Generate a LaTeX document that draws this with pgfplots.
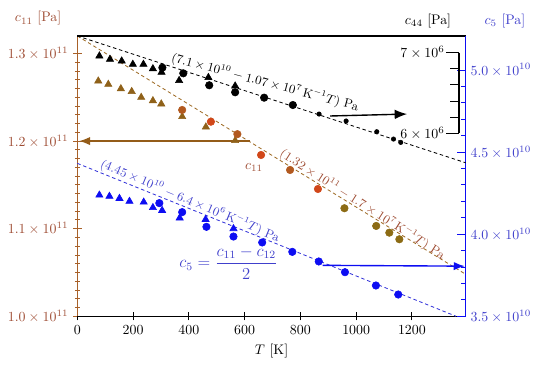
\documentclass[border=0pt]{standalone}
\usepackage{pgfplots}
\pgfplotsset{compat=1.18}
\usetikzlibrary{arrows.meta}
\definecolor{caxis}{rgb}{0.66,0.38,0.16}
\definecolor{ctxt}{rgb}{0.62,0.3,0.2}
\definecolor{cred}{rgb}{0.82,0.28,0.1}
\definecolor{cbrn}{rgb}{0.7,0.35,0.12}
\definecolor{colive}{rgb}{0.55,0.42,0.08}
\definecolor{ctri}{rgb}{0.56,0.38,0.1}
\definecolor{cline}{rgb}{0.62,0.42,0.15}
\definecolor{carrow}{rgb}{0.58,0.36,0.1}
\definecolor{cblue}{rgb}{0.05,0.05,0.95}
\definecolor{cbtxt}{rgb}{0.25,0.25,0.8}
\definecolor{cbline}{rgb}{0.2,0.2,0.85}

\pgfplotsset{
  base/.style={
    width=279.6pt, height=201.8pt, scale only axis,
    xmin=0, xmax=1393,
    tick align=inside,
    major tick length=6pt, minor tick length=3.5pt,
    scaled y ticks=false,
    /pgf/number format/1000 sep={},
    clip=false,
  },
  fit/.style={line width=0.6pt, dash pattern=on 2.5pt off 2pt},
}

\begin{document}
\begin{tikzpicture}
% ---------------- c11 axis (left) ----------------
\begin{axis}[base,
  ymin=1.0e11, ymax=1.32e11,
  axis lines=left, axis line style={-},
  y axis line style={caxis, line width=1pt},
  x axis line style={black, line width=1pt},
  xtick={0,200,...,1200},
  xtick style={black, line width=0.6pt},
  ytick={1.0e11,1.1e11,1.2e11,1.3e11},
  yticklabels={$1.0\times10^{11}$,$1.1\times10^{11}$,$1.2\times10^{11}$,$1.3\times10^{11}$},
  yticklabel style={ctxt},
  minor y tick num=9,
  ytick style={caxis, line width=0.6pt},
  xlabel={$T$ [K]},
]
\coordinate (SW) at (rel axis cs:0,0);
\coordinate (NE) at (rel axis cs:1,1);
\addplot[fit, cline] coordinates {(0,1.32e11) (1393,1.0479e11)};
\addplot[only marks, mark=triangle*, mark size=3pt, color=ctri] coordinates {
(75,1.2686e11) (111,1.2648e11) (156,1.2598e11) (195,1.2566e11) (229,1.2499e11)
(271,1.2461e11) (301,1.2424e11) (376,1.2279e11) (461,1.2161e11) (566,1.2005e11)};
\addplot[only marks, mark=*, mark size=2.7pt, color=cbrn] coordinates {
(376,1.2355e11) (574,1.2079e11) (763,1.1670e11)};
\addplot[only marks, mark=*, mark size=2.7pt, color=cred] coordinates {
(479,1.2221e11) (659,1.1841e11) (863,1.1453e11)};
\addplot[only marks, mark=*, mark size=2.7pt, color=colive] coordinates {
(958,1.1233e11) (1072,1.1031e11) (1119,1.0954e11) (1155,1.0879e11)};
\draw[carrow, line width=1pt, -{Latex[length=8pt,width=6pt]}] (axis cs:620,1.2e11) -- (axis cs:6,1.2e11);
\node[ctxt] at (rel axis cs:-0.1012,1.0625) {$c_{11}$ [Pa]};
\node[black] at (rel axis cs:0.903,1.0535) {$c_{44}$ [Pa]};
\node[cbtxt] at (rel axis cs:1.1011,1.0535) {$c_{5}$ [Pa]};
\node[ctxt] at (rel axis cs:0.455,0.531) {$c_{11}$};
\node[cbtxt, font=\large] at (rel axis cs:0.3893,0.1902) {$c_5=\displaystyle\frac{c_{11}-c_{12}}{2}$};
\node[black, rotate=-14.8, font=\small] at (rel axis cs:0.4833,0.8341) {$(7.1\times10^{10}-1.07\times10^{7}\,\mathrm{K}^{-1}T)$ Pa};
\node[ctxt, rotate=-32.5, font=\small] at (rel axis cs:0.7343,0.3989) {$(1.32\times10^{11}-1.7\times10^{7}\,\mathrm{K}^{-1}T)$ Pa};
\node[cbtxt, rotate=-22.8, font=\small] at (rel axis cs:0.2902,0.4113) {$(4.45\times10^{10}-6.4\times10^{6}\,\mathrm{K}^{-1}T)$ Pa};
\end{axis}

% ---------------- c5 axis (right, blue) ----------------
\begin{axis}[base,
  ymin=3.5e10, ymax=5.207e10,
  axis x line*=top, axis y line*=right, axis line style={-},
  x axis line style={black, line width=1pt},
  y axis line style={cblue, line width=1pt},
  xtick=\empty,
  ytick={3.5e10,4.0e10,4.5e10,5.0e10},
  yticklabels={$3.5\times10^{10}$,$4.0\times10^{10}$,$4.5\times10^{10}$,$5.0\times10^{10}$},
  yticklabel style={cbtxt},
  minor y tick num=4,
  ytick style={cblue, line width=0.6pt},
]
\addplot[fit, cbline] coordinates {(0,4.431e10) (1358,3.5e10)};
\addplot[only marks, mark=triangle*, mark size=3pt, color=cblue] coordinates {
(79,4.2378e10) (115,4.2305e10) (151,4.2177e10) (187,4.2000e10) (238,4.1951e10)
(271,4.1616e10) (304,4.1445e10) (367,4.0988e10) (460,4.0896e10) (560,4.0335e10)};
\addplot[only marks, mark=*, mark size=2.7pt, color=cblue] coordinates {
(294,4.189e10) (376,4.134e10) (463,4.0445e10) (560,3.9854e10) (663,3.9494e10)
(771,3.8921e10) (866,3.8335e10) (960,3.7683e10) (1071,3.6872e10) (1151,3.6323e10)};
\draw[cblue, line width=1pt, -{Latex[length=8pt,width=6pt]}] (axis cs:880,3.81e10) -- (axis cs:1390,3.805e10);
\end{axis}

% ---------------- c44 axis (inner, black) ----------------
\begin{axis}[base, ymin=3.733e6, ymax=7.207e6, hide axis]
\addplot[fit, black] coordinates {(0,7.207e6) (1393,5.635e6)};
\addplot[only marks, mark=triangle*, mark size=3pt, black] coordinates {
(79,6.959e6) (117,6.918e6) (159,6.897e6) (199,6.856e6) (237,6.856e6)
(271,6.801e6) (302,6.757e6) (365,6.655e6) (470,6.692e6) (566,6.587e6)};
\addplot[only marks, mark=*, mark size=2.7pt, black] coordinates {
(305,6.814e6) (380,6.744e6) (473,6.596e6) (566,6.509e6) (670,6.442e6) (773,6.351e6)};
\addplot[only marks, mark=*, mark size=1.6pt, black] coordinates {
(867,6.239e6) (964,6.153e6) (1074,6.020e6) (1134,5.929e6) (1160,5.888e6)};
\draw[black, line width=1pt, -{Latex[length=9pt,width=7pt]}] (axis cs:907,6.215e6) -- (axis cs:1183,6.239e6);
\draw[line width=1.2pt] (axis cs:1370,7e6) -- (axis cs:1370,6e6);
\draw[line width=1.2pt] (axis cs:1323,7e6) -- (axis cs:1370,7e6);
\draw[line width=1.2pt] (axis cs:1323,6e6) -- (axis cs:1370,6e6);
\draw[line width=0.8pt] (axis cs:1338,6.2e6) -- (axis cs:1370,6.2e6);
\draw[line width=0.8pt] (axis cs:1338,6.4e6) -- (axis cs:1370,6.4e6);
\draw[line width=0.8pt] (axis cs:1338,6.6e6) -- (axis cs:1370,6.6e6);
\draw[line width=0.8pt] (axis cs:1338,6.8e6) -- (axis cs:1370,6.8e6);
\node[anchor=east, inner sep=1pt] at (axis cs:1323,7e6) {$7\times10^{6}$};
\node[anchor=east, inner sep=1pt] at (axis cs:1323,6e6) {$6\times10^{6}$};
\end{axis}

\pgfresetboundingbox
\path[use as bounding box] ([xshift=-55.7pt,yshift=-37.9pt]SW) rectangle ([xshift=60.7pt,yshift=25.9pt]NE);
\end{tikzpicture}
\end{document}
